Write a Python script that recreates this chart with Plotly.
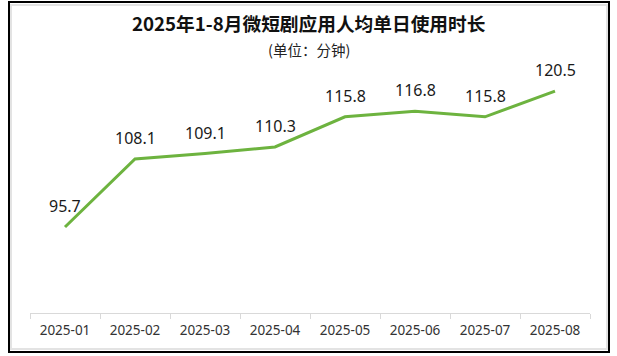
import plotly.graph_objects as go

months = ["2025-01", "2025-02", "2025-03", "2025-04", "2025-05", "2025-06", "2025-07", "2025-08"]
minutes = [95.7, 108.1, 109.1, 110.3, 115.8, 116.8, 115.8, 120.5]
value_labels = [f"{v:.1f}" for v in minutes]
title_text = "<b>2025年1-8月微短剧应用人均单日使用时长</b>"
subtitle_text = "(单位：分钟)"

W, H = 617, 356
L, R, T, B = 30, 27, 39, 43
pw, ph = W - L - R, H - T - B

def px_x(x):
    return (x - L) / pw

def px_y(y):
    return (H - B - y) / ph

fig = go.Figure()
fig.add_trace(go.Scatter(
    x=months, y=minutes, mode="lines",
    line=dict(color="#6db33f", width=3),
    hoverinfo="x+y", showlegend=False,
))

annotations = []
for m, v, t in zip(months, minutes, value_labels):
    annotations.append(dict(
        x=m, y=v, xref="x", yref="y", text=t, showarrow=False,
        yanchor="bottom", yshift=8,
        font=dict(family="Noto Sans, Open Sans, sans-serif", size=16, color="#1a1a1a"),
    ))
annotations.append(dict(
    x=px_x(309), y=px_y(38), xref="paper", yref="paper", text=title_text,
    showarrow=False, xanchor="center", yanchor="bottom",
    font=dict(family="Noto Sans CJK SC, sans-serif", size=18.7, color="#111111"),
))
annotations.append(dict(
    x=px_x(309), y=px_y(37), xref="paper", yref="paper", text=subtitle_text,
    showarrow=False, xanchor="center", yanchor="top",
    font=dict(family="Noto Sans CJK SC, sans-serif", size=14.5, color="#222222"),
))

shapes = [
    dict(type="rect", xref="paper", yref="paper",
         x0=px_x(11), x1=px_x(607), y0=px_y(349), y1=px_y(5),
         line=dict(color="#e3e3e3", width=2), layer="below"),
    dict(type="rect", xref="paper", yref="paper",
         x0=px_x(9), x1=px_x(609), y0=px_y(352), y1=px_y(2),
         line=dict(color="#000000", width=2), layer="below"),
]

fig.update_layout(
    width=W, height=H,
    margin=dict(l=L, r=R, t=T, b=B, pad=0),
    paper_bgcolor="white", plot_bgcolor="white",
    annotations=annotations, shapes=shapes,
    xaxis=dict(
        type="category", showline=True, linecolor="#d9d9d9", linewidth=1,
        ticks="outside", tickson="boundaries", ticklen=5, tickcolor="#d9d9d9",
        ticklabelstandoff=5,
        showgrid=False, zeroline=False,
        tickfont=dict(family="Noto Sans, Open Sans, sans-serif", size=13.5, color="#333333"),
        range=[-0.5, len(months) - 0.5],
    ),
    yaxis=dict(range=[80, 130], visible=False, showgrid=False, zeroline=False),
)

fig.write_html("out.html", config={"displayModeBar": False})

with open("out.html", "r", encoding="utf-8") as f:
    html = f.read()
html = html.replace("<head>", "<head><style>html,body{margin:0;padding:0;overflow:hidden;}</style>", 1)
with open("out.html", "w", encoding="utf-8") as f:
    f.write(html)
